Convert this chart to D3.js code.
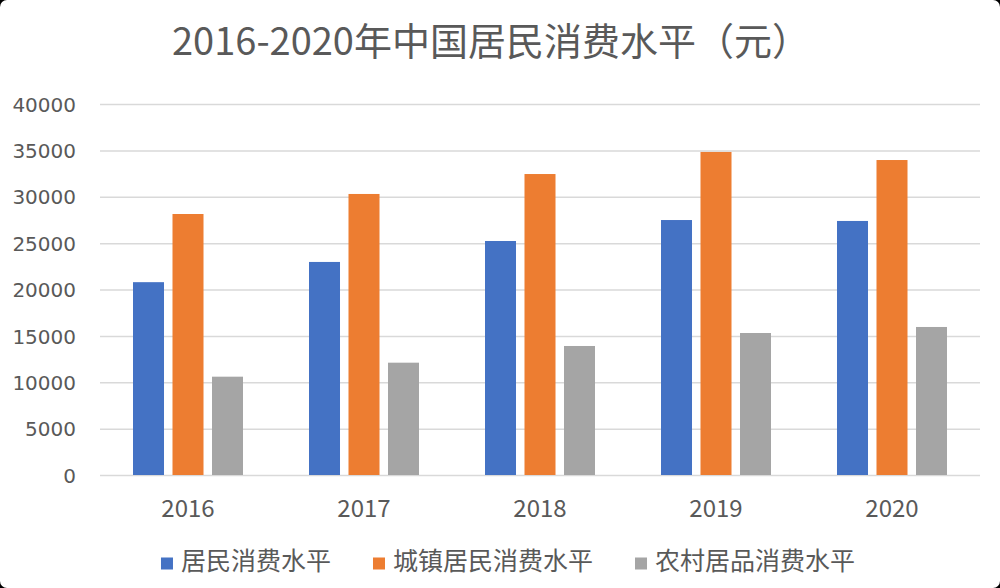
<!DOCTYPE html>
<html>
<head>
<meta charset="utf-8">
<script src="https://cdn.jsdelivr.net/npm/d3@7"></script>
<style>
  html, body { margin: 0; padding: 0; background: #000; }
  svg { display: block; }
</style>
</head>
<body>
<svg id="chart" width="1000" height="588"></svg>
<script>
// ---- data ----
const title = "2016-2020年中国居民消费水平（元）";
const years = ["2016", "2017", "2018", "2019", "2020"];
const seriesNames = ["居民消费水平", "城镇居民消费水平", "农村居品消费水平"];
const residents = [20790, 22970, 25230, 27490, 27390];
const urban = [28140, 30300, 32450, 34830, 33960];
const rural = [10600, 12110, 13910, 15310, 15960];
const yTicks = [0, 5000, 10000, 15000, 20000, 25000, 30000, 35000, 40000];
const colors = ["#4472C4", "#ED7D31", "#A5A5A5"];

(function () {
const seriesValues = [residents, urban, rural];
const table = years.map((yr, i) => ({
  year: yr,
  values: seriesNames.map((s, j) => ({ key: s, idx: j, value: seriesValues[j][i] }))
}));

const W = 1000, H = 588;
const pLeft = 100, pRight = 980, pTop = 104, pBottom = 475;
const txt = "#595959";
const cjk = "'Noto Sans CJK SC', 'Noto Sans', sans-serif";

const svg = d3.select("#chart");
svg.append("rect").attr("x", 0).attr("y", 0).attr("width", W).attr("height", H)
  .attr("rx", 7).attr("ry", 7).attr("fill", "#fff");

// title
svg.append("text").attr("x", 491).attr("y", 55).attr("text-anchor", "middle")
  .attr("font-family", cjk).attr("font-size", 38).attr("fill", txt).text(title);

// scales
const y = d3.scaleLinear().domain([0, 40000]).range([pBottom, pTop]);
const x0 = d3.scaleBand().domain(years).range([pLeft, pRight])
  .paddingInner(0.375).paddingOuter(0.1875);
const x1 = d3.scaleBand().domain(seriesNames).range([0, x0.bandwidth()])
  .paddingInner(0.215).paddingOuter(0);

// grid
const grid = svg.append("g").attr("transform", `translate(${pLeft},0)`)
  .call(d3.axisLeft(y).tickValues(yTicks).tickSize(-(pRight - pLeft)).tickFormat(""));
grid.select(".domain").remove();
grid.selectAll(".tick line").attr("stroke", "#D9D9D9").attr("stroke-width", 1.5);

// y labels
const yAxis = svg.append("g").attr("transform", `translate(76,0)`)
  .call(d3.axisLeft(y).tickValues(yTicks).tickSize(0).tickPadding(0).tickFormat(d3.format("d")));
yAxis.select(".domain").remove();
yAxis.selectAll("text").attr("font-family", "'DejaVu Sans', sans-serif")
  .attr("font-size", 20).attr("fill", txt).attr("dy", "0.36em");

// bars
const groups = svg.append("g").selectAll("g").data(table).join("g")
  .attr("transform", d => `translate(${x0(d.year)},0)`);
groups.selectAll("rect").data(d => d.values).join("rect")
  .attr("x", d => x1(d.key))
  .attr("width", x1.bandwidth())
  .attr("y", d => y(d.value))
  .attr("height", d => y(0) - y(d.value))
  .attr("fill", d => colors[d.idx]);

// x axis labels
const xAxis = svg.append("g").attr("transform", `translate(0,${pBottom})`)
  .call(d3.axisBottom(x0).tickSize(0).tickPadding(0));
xAxis.select(".domain").remove();
xAxis.selectAll("text").attr("font-family", cjk).attr("font-size", 24)
  .attr("fill", txt).attr("dy", 0).attr("y", 42);

// legend
const legend = svg.append("g");
const items = legend.selectAll("g").data(seriesNames).join("g");
items.append("rect").attr("width", 12).attr("height", 12).attr("y", 557.5)
  .attr("fill", (d, i) => colors[i]);
items.append("text").attr("x", 20).attr("y", 570).attr("font-family", cjk)
  .attr("font-size", 25).attr("fill", txt).text(d => d);
const widths = [];
items.each(function () { widths.push(20 + d3.select(this).select("text").node().getComputedTextLength()); });
const gap = 42;
const total = d3.sum(widths) + gap * (widths.length - 1);
let start = 508 - total / 2;
items.attr("transform", (d, i) => {
  const t = `translate(${start},0)`;
  start += widths[i] + gap;
  return t;
});
})();
</script>
</body>
</html>
